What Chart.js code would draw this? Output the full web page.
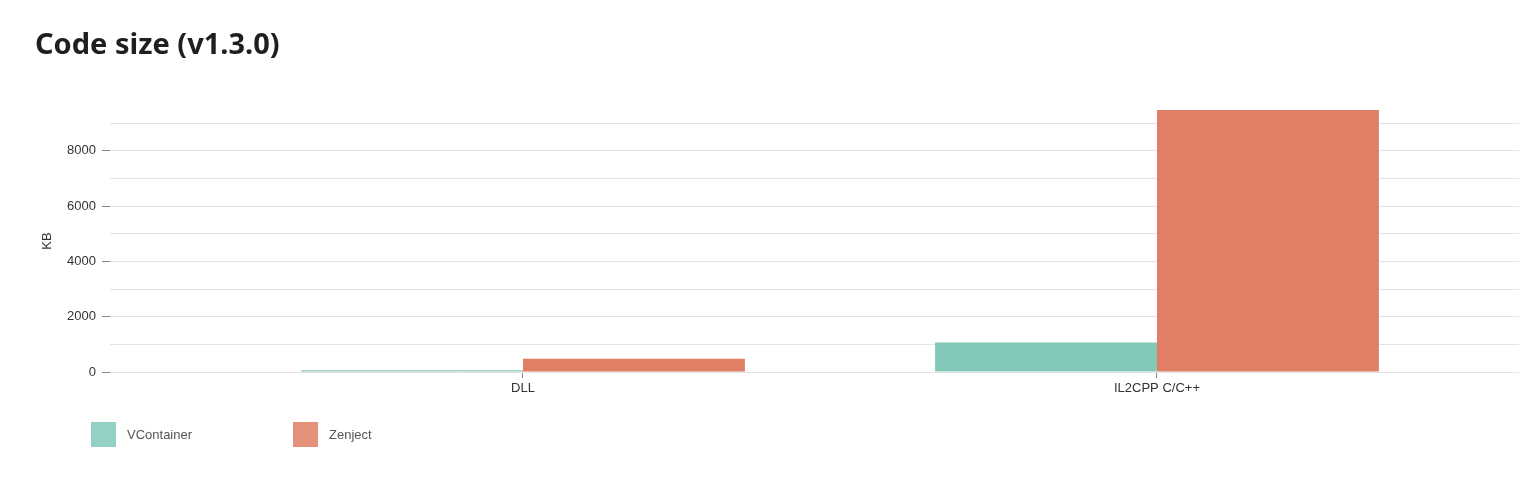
<!doctype html>
<html>

<head>
	<title>Code size (v1.3.0)</title>
	<script src="https://cdn.jsdelivr.net/npm/chart.js@4/dist/chart.umd.min.js"></script>
	<style>
		body {
			margin: 0;
			background: #fff;
		}

		#container {
			position: relative;
			width: 1519px;
			height: 494px;
		}

		#title {
			position: absolute;
			left: 35px;
			top: 23px;
			margin: 0;
			font-family: "Noto Sans", sans-serif;
			font-weight: bold;
			font-size: 29px;
			color: #1f1f1f;
		}

		#legend {
			position: absolute;
			left: 91px;
			top: 422px;
			display: flex;
			font-family: "Liberation Sans", Arial, sans-serif;
			font-size: 13px;
			color: #555;
		}

		.item {
			display: flex;
			align-items: center;
			width: 202px;
		}

		.box {
			width: 25px;
			height: 25px;
			margin-right: 11px;
		}
	</style>
</head>

<body>
<div id="container">
	<canvas id="canvas" width="1519" height="494"></canvas>
	<h2 id="title">Code size (v1.3.0)</h2>
	<div id="legend"></div>
</div>
<script>

	var categories = ["DLL", "IL2CPP C/C++"];
	var seriesNames = ["VContainer", "Zenject"];
	var vcontainerKB = [60, 1070];
	var zenjectKB = [480, 9480];
	var yTicks = [0, 1000, 2000, 3000, 4000, 5000, 6000, 7000, 8000, 9000];
	var colors = ["#84c8b9", "#e07f66"];
	var legendColors = ["#93d1c4", "#e59079"];

	function toPoints(values) {
		return values.map(function (v, i) {
			return { x: i, y: v };
		});
	}

	var legend = document.getElementById("legend");
	seriesNames.forEach(function (name, i) {
		var item = document.createElement("div");
		item.className = "item";
		item.innerHTML = '<div class="box" style="background:' + legendColors[i] + '"></div>' + name;
		legend.appendChild(item);
	});

	// x axis is linear so the category centres can sit where the original puts them
	var xMin = -0.6514;
	var xMax = 1.5710;
	var tickFont = { family: "'Liberation Sans', Arial, sans-serif", size: 13 };

	var ctx = document.getElementById("canvas").getContext("2d");
	window.myBar = new Chart(ctx, {
		type: 'bar',
		data: {
			datasets: [{
				label: seriesNames[0],
				backgroundColor: colors[0],
				data: toPoints(vcontainerKB)
			}, {
				label: seriesNames[1],
				backgroundColor: colors[1],
				data: toPoints(zenjectKB)
			}]
		},
		options: {
			responsive: false,
			animation: false,
			categoryPercentage: 0.7,
			barPercentage: 1.0,
			layout: {
				padding: { top: 110, left: 0, right: 0, bottom: 0 }
			},
			plugins: {
				legend: { display: false },
				tooltip: { enabled: false }
			},
			scales: {
				x: {
					type: 'linear',
					offset: false,
					min: xMin,
					max: xMax,
					afterBuildTicks: function (scale) {
						scale.ticks = categories.map(function (c, i) {
							return { value: i };
						});
					},
					afterFit: function (scale) {
						scale.height = 122;
					},
					border: { display: false },
					grid: {
						offset: false,
						drawOnChartArea: false,
						tickLength: 6,
						tickColor: '#888'
					},
					ticks: {
						padding: 3,
						color: '#333',
						font: tickFont,
						maxRotation: 0,
						autoSkip: false,
						callback: function (value) {
							return categories[value];
						}
					}
				},
				y: {
					min: 0,
					max: 9480,
					afterBuildTicks: function (scale) {
						scale.ticks = yTicks.map(function (v) {
							return { value: v };
						});
					},
					afterFit: function (scale) {
						scale.width = 110;
					},
					border: { display: false },
					grid: {
						color: '#e3e3e3',
						tickLength: 8,
						tickColor: function (c) {
							return c.tick && c.tick.value % 2000 === 0 ? '#888' : 'rgba(0,0,0,0)';
						}
					},
					ticks: {
						padding: 6,
						autoSkip: false,
						color: '#333',
						font: tickFont,
						callback: function (value) {
							return value % 2000 === 0 ? value : '';
						}
					},
					title: {
						display: true,
						text: 'KB',
						color: '#333',
						padding: { top: 40, bottom: 0 },
						font: tickFont
					}
				}
			}
		}
	});

</script>
</body>

</html>
